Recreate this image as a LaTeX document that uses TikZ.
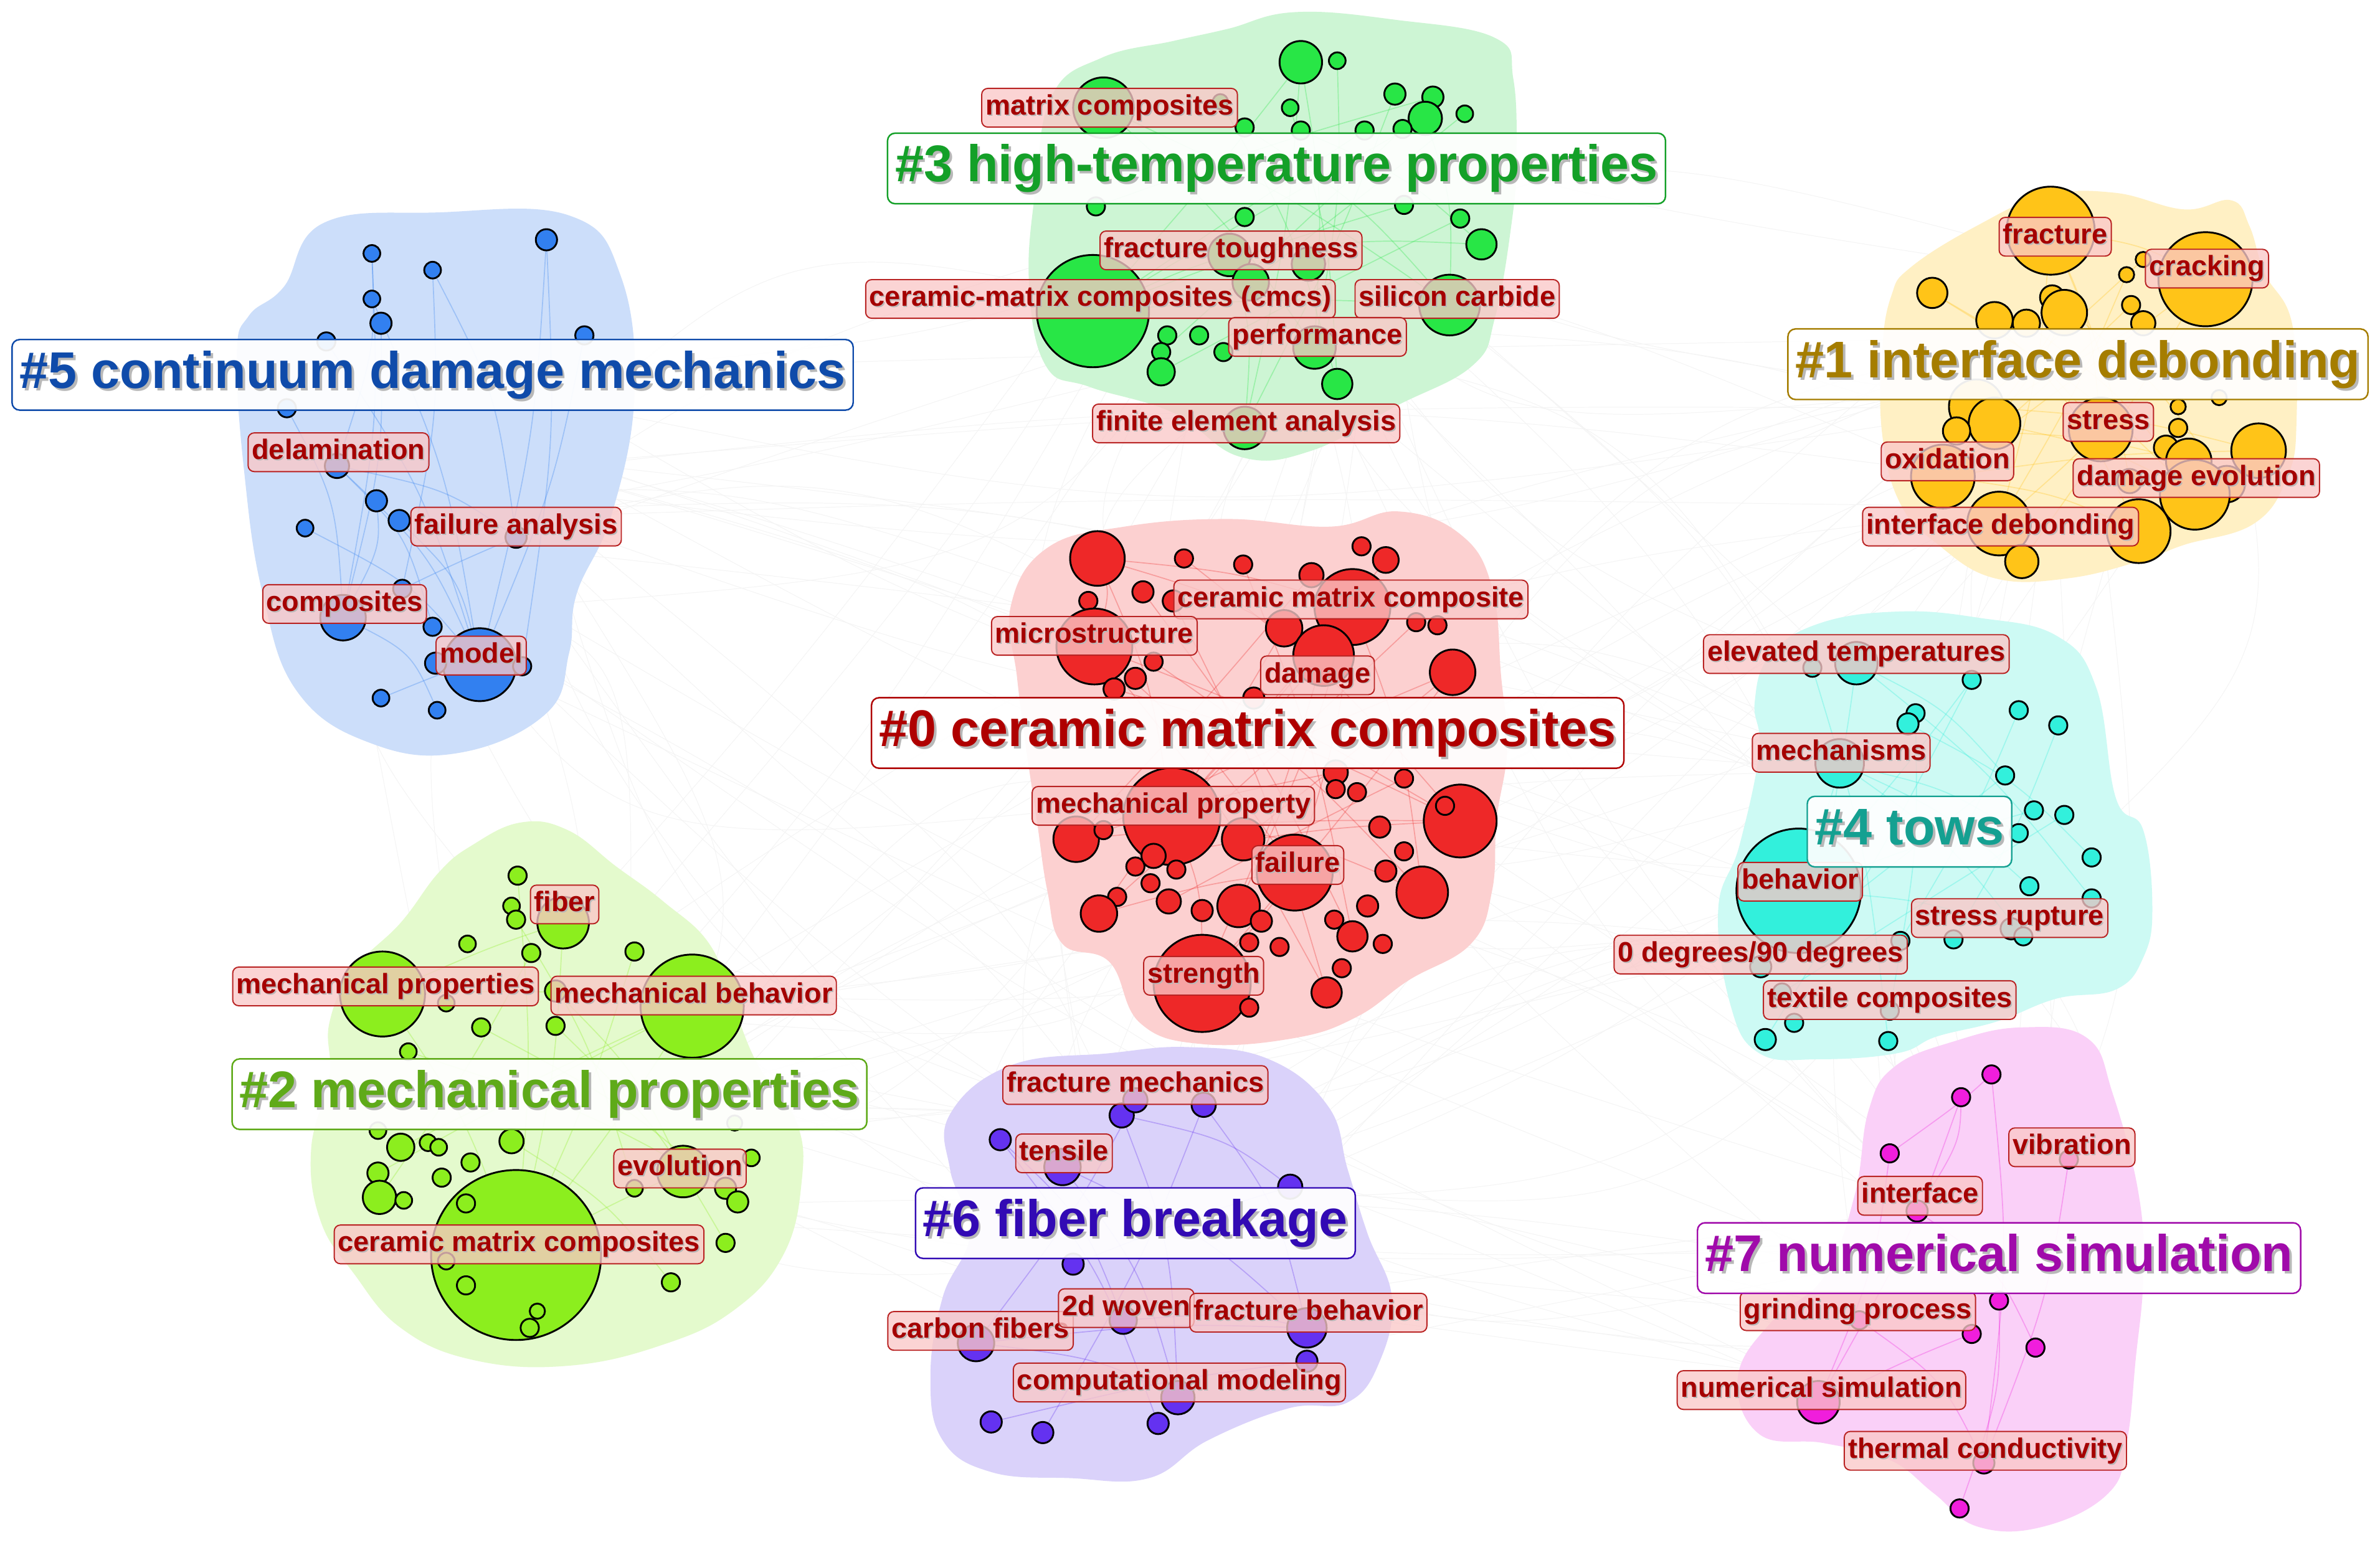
\documentclass[tikz,border=0pt]{standalone}
\usepackage{fontspec}
\setmainfont{Liberation Sans}
\usetikzlibrary{calc}
\definecolor{hR}{RGB}{252,208,208}
\definecolor{hY}{RGB}{255,240,196}
\definecolor{hL}{RGB}{228,250,205}
\definecolor{hG}{RGB}{205,245,212}
\definecolor{hC}{RGB}{205,250,244}
\definecolor{hB}{RGB}{204,222,250}
\definecolor{hP}{RGB}{218,210,250}
\definecolor{hM}{RGB}{250,208,248}
\definecolor{nR}{RGB}{238,40,40}
\definecolor{nY}{RGB}{255,196,24}
\definecolor{nL}{RGB}{140,238,30}
\definecolor{nG}{RGB}{40,230,70}
\definecolor{nC}{RGB}{50,240,220}
\definecolor{nB}{RGB}{50,128,240}
\definecolor{nP}{RGB}{100,50,240}
\definecolor{nM}{RGB}{240,30,220}
\definecolor{tR}{RGB}{175,0,0}
\definecolor{tY}{RGB}{165,125,0}
\definecolor{tL}{RGB}{95,170,25}
\definecolor{tG}{RGB}{20,160,40}
\definecolor{tC}{RGB}{20,160,145}
\definecolor{tB}{RGB}{15,75,170}
\definecolor{tP}{RGB}{50,10,180}
\definecolor{tM}{RGB}{160,10,170}
\definecolor{labT}{RGB}{165,0,0}
\definecolor{labB}{RGB}{185,35,35}
\definecolor{labF}{RGB}{250,200,200}
\newcommand\shtext[2]{\leavevmode\rlap{\hspace{#1}\raisebox{-#1}{\textcolor{black!28}{#2}}}#2}
\begin{document}
\begin{tikzpicture}[x=1pt,y=-1pt,
  cnode/.style={circle,draw=black,line width=1.2pt,inner sep=0pt},
  biglab/.style={draw=#1,text=#1,rounded corners=5pt,fill=white,fill opacity=0.93,text opacity=1,line width=1pt,
    font=\bfseries\fontsize{34}{40}\selectfont,inner xsep=5pt,inner ysep=7pt,text height=25pt,text depth=7.5pt},
  smlab/.style={draw=labB,fill=labF,fill opacity=0.78,text opacity=1,text=labT,rounded corners=4pt,line width=0.8pt,
    font=\bfseries\fontsize{18.5}{20}\selectfont,inner xsep=2.5pt,inner ysep=4pt,text height=13.5pt,text depth=4pt},
  hull/.style={fill=#1,draw=none},
  bgline/.style={draw=gray!9,line width=0.4pt},
  edge/.style={draw=#1,draw opacity=0.3,line width=0.7pt}]
\fill[white] (0,0) rectangle (1568,1021);
\useasboundingbox (0,0) rectangle (1568,1021);
% cluster centres for background links
\coordinate (cB) at (285,320);
\coordinate (cG) at (840,160);
\coordinate (cR) at (830,510);
\coordinate (cY) at (1380,260);
\coordinate (cC) at (1270,560);
\coordinate (cL) at (360,720);
\coordinate (cP) at (760,840);
\coordinate (cM) at (1300,860);
\pgfmathsetseed{12}
\foreach \A/\B in {cB/cG,cB/cR,cB/cY,cB/cC,cB/cL,cB/cP,cB/cM,cG/cR,cG/cY,cG/cC,cG/cL,cG/cP,cG/cM,cR/cY,cR/cC,cR/cL,cR/cP,cR/cM,cY/cC,cY/cL,cY/cP,cY/cM,cC/cL,cC/cP,cC/cM,cL/cP,cL/cM,cP/cM}{
  \foreach \k in {1,...,6}{
    \pgfmathsetmacro\ox{80*rand}\pgfmathsetmacro\oy{80*rand}
    \pgfmathsetmacro\qx{80*rand}\pgfmathsetmacro\qy{80*rand}
    \pgfmathsetmacro\cx{140*rand}\pgfmathsetmacro\cy{140*rand}
    \coordinate (bp1) at ($(\A)+(\ox,\oy)$);
    \coordinate (bp2) at ($(\B)+(\qx,\qy)$);
    \coordinate (bc) at ($(bp1)!0.5!(bp2)+(\cx,\cy)$);
    \draw[bgline] (bp1) .. controls (bc) .. (bp2);
  }}
% hulls
\fill[hull=hB] plot[smooth cycle,tension=0.7] coordinates {(213,147)(288,140)(375,142)(409,182)(418,260)(403,339)(380,391)(375,430)(360,470)(303,496)(245,490)(196,456)(173,391)(161,312)(156,234)(164,208)(187,189)};
\fill[hull=hG] plot[smooth cycle,tension=0.7] coordinates {(853,8)(919,13)(985,25)(997,52)(999,105)(996,146)(985,209)(970,241)(919,268)(864,297)(817,301)(773,272)(718,255)(689,241)(678,188)(682,126)(693,63)(726,38)(773,27)(809,19)};
\fill[hull=hR] plot[smooth cycle,tension=0.7] coordinates {(690,361)(741,347)(809,342)(877,347)(921,337)(962,352)(983,387)(989,446)(993,493)(986,540)(983,587)(969,622)(928,646)(894,670)(853,684)(792,688)(751,674)(731,634)(700,622)(690,587)(683,540)(676,493)(670,446)(666,399)};
\fill[hull=hY] plot[smooth cycle,tension=0.7] coordinates {(1259,176)(1302,149)(1347,129)(1393,127)(1439,138)(1470,132)(1482,149)(1492,180)(1510,213)(1513,277)(1507,314)(1485,345)(1439,359)(1412,369)(1363,381)(1314,381)(1277,359)(1252,332)(1240,286)(1240,231)(1246,195)};
\fill[hull=hM] plot[smooth cycle,tension=0.7] coordinates {(1248,703)(1288,686)(1332,677)(1375,684)(1392,721)(1409,787)(1412,841)(1407,896)(1401,951)(1389,984)(1346,1006)(1303,1006)(1274,984)(1245,962)(1202,951)(1159,945)(1145,907)(1168,870)(1202,841)(1222,787)(1231,732)};
\fill[hull=hC] plot[smooth cycle,tension=0.7] coordinates {(1166,432)(1198,411)(1250,403)(1303,407)(1355,419)(1381,453)(1394,526)(1412,547)(1418,599)(1412,631)(1394,652)(1355,658)(1316,673)(1276,683)(1250,694)(1198,698)(1159,694)(1140,662)(1132,599)(1146,557)(1159,495)(1156,463)};
\fill[hull=hP] plot[smooth cycle,tension=0.7] coordinates {(626,734)(666,702)(731,694)(783,690)(836,698)(875,729)(888,771)(901,813)(917,855)(909,897)(888,924)(849,928)(796,949)(757,974)(705,974)(653,970)(621,949)(613,907)(621,855)(639,813)(626,771)};
\fill[hull=hL] plot[smooth cycle,tension=0.7] coordinates {(311,557)(343,542)(374,547)(406,571)(437,594)(468,623)(484,665)(500,703)(525,740)(528,780)(516,827)(484,863)(437,886)(374,900)(311,896)(264,875)(233,839)(211,804)(205,757)(217,710)(217,674)(233,639)(264,608)(289,575)};
% ---------- cluster #0 (red)
\foreach \x/\y/\rr [count=\i] in {723/368/18,780/368/6,819/372/6,897/360/6,913/369/8.5,753/390/7,717/396/6,773/396/7,891/400/25,864/379/8,846/414/12,933/410/6,947/412/6,721/426/25,872/432/20,957/443/15,760/436/6,748/447/7,734/454/7,826/460/7,880/509/8,894/522/6,880/520/6,925/513/6,772/538/32,709/553/15,727/547/6,760/564/8,819/553/14,853/575/25,962/541/24,952/531/6,909/545/7,925/561/6,913/574/7,937/588/17,748/571/6,775/573/6,758/582/6,770/594/8,736/591/6,724/602/12,792/600/7,816/597/14,831/607/7,843/624/6,823/621/6,879/606/6,891/617/10,901/597/7,911/622/6,884/638/6,874/654/10,792/648/32,823/664/6}
  \coordinate (R\i) at (\x,\y);
\foreach \a/\b in {1/9,1/14,1/25,14/30,9/25,9/30,15/25,15/54,25/54,30/54,26/31,14/31,9/36,16/26,11/42,6/49,25/36,30/42,19/31,29/16,44/9,1/15,21/26,54/16,14/53,28/31,25/5,40/24,12/42,17/36,2/31,8/53,10/26,3/49}
  \draw[edge=nR] (R\a) .. controls ($(R\a)!0.5!(R\b)+(10,-7)$) .. (R\b);
\foreach \x/\y/\rr [count=\i] in {723/368/18,780/368/6,819/372/6,897/360/6,913/369/8.5,753/390/7,717/396/6,773/396/7,891/400/25,864/379/8,846/414/12,933/410/6,947/412/6,721/426/25,872/432/20,957/443/15,760/436/6,748/447/7,734/454/7,826/460/7,880/509/8,894/522/6,880/520/6,925/513/6,772/538/32,709/553/15,727/547/6,760/564/8,819/553/14,853/575/25,962/541/24,952/531/6,909/545/7,925/561/6,913/574/7,937/588/17,748/571/6,775/573/6,758/582/6,770/594/8,736/591/6,724/602/12,792/600/7,816/597/14,831/607/7,843/624/6,823/621/6,879/606/6,891/617/10,901/597/7,911/622/6,884/638/6,874/654/10,792/648/32,823/664/6}
  \node[cnode,fill=nR,minimum size=2*\rr] (nr\i) at (\x,\y) {};
% ---------- cluster #1 (yellow)
\foreach \x/\y/\rr [count=\i] in {1351/152/29,1453/184/31,1273/193/10,1412/171/5,1401/181/5,1352/196/8,1404/201/6,1314/211/12,1335/213/9,1360/206/15,1412/213/8,1302/268/18,1314/279/17,1289/284/9,1384/283/21,1435/282/6,1435/268/5,1427/295/8,1488/297/18,1442/304/15,1467/319/12,1280/314/21,1446/326/23,1409/350/21,1317/345/21,1332/370/11,1403/317/8,1462/262/5}
  \coordinate (Y\i) at (\x,\y);
\foreach \a/\b in {1/2,1/25,1/15,2/22,3/23,8/24,10/22,12/19,13/23,15/25,22/24,2/26,3/15,6/21,10/13,1/24,14/20,19/22,4/12,5/25,9/23,11/14,7/22}
  \draw[edge=nY] (Y\a) .. controls ($(Y\a)!0.5!(Y\b)+(10,-7)$) .. (Y\b);
\foreach \x/\y/\rr [count=\i] in {1351/152/29,1453/184/31,1273/193/10,1412/171/5,1401/181/5,1352/196/8,1404/201/6,1314/211/12,1335/213/9,1360/206/15,1412/213/8,1302/268/18,1314/279/17,1289/284/9,1384/283/21,1435/282/6,1435/268/5,1427/295/8,1488/297/18,1442/304/15,1467/319/12,1280/314/21,1446/326/23,1409/350/21,1317/345/21,1332/370/11,1403/317/8,1462/262/5}
  \node[cnode,fill=nY,minimum size=2*\rr] (ny\i) at (\x,\y) {};
% ---------- cluster #3 (green)
\foreach \x/\y/\rr [count=\i] in {857/41/14,881/40/5.5,850/71/5.5,919/62/7,944/64/7,939/78/11,965/75/5.5,924/85/6,899/86/6,857/86/6,820/84/6,727/71/20,804/67/5,722/136/6,820/143/6,925/135/6,962/144/6,976/161/10,720/205/37,769/221/6,790/221/6,765/232/6,765/245/9,806/232/6,866/229/14,881/253/10,955/201/20,810/168/14,862/174/11,820/282/14,824/186/12}
  \coordinate (G\i) at (\x,\y);
\foreach \a/\b in {1/19,1/30,6/19,6/27,12/25,12/27,19/27,19/28,28/30,25/1,4/30,16/19,17/23,3/26,9/19,18/28,5/14,11/27,2/25,7/31,8/22,10/18,13/26}
  \draw[edge=nG] (G\a) .. controls ($(G\a)!0.5!(G\b)+(10,-7)$) .. (G\b);
\foreach \x/\y/\rr [count=\i] in {857/41/14,881/40/5.5,850/71/5.5,919/62/7,944/64/7,939/78/11,965/75/5.5,924/85/6,899/86/6,857/86/6,820/84/6,727/71/20,804/67/5,722/136/6,820/143/6,925/135/6,962/144/6,976/161/10,720/205/37,769/221/6,790/221/6,765/232/6,765/245/9,806/232/6,866/229/14,881/253/10,955/201/20,810/168/14,862/174/11,820/282/14,824/186/12}
  \node[cnode,fill=nG,minimum size=2*\rr] (ng\i) at (\x,\y) {};
% ---------- cluster #4 (cyan)
\foreach \x/\y/\rr [count=\i] in {1223/437/14,1194/440/6,1299/448/6,1262/470/6,1257/477/7,1330/468/6,1356/478/6,1212/503/16,1321/511/6,1340/534/6,1360/537/6,1330/549/6,1378/565/6,1185/587/41,1337/584/6,1378/592/6,1325/612/7,1333/617/6,1287/619/6,1252/620/6,1160/637/7,1174/654/6,1182/674/6,1245/666/6,1163/685/7,1244/686/6}
  \coordinate (C\i) at (\x,\y);
\foreach \a/\b in {14/1,14/8,8/15,1/16,14/17,8/12,2/26,3/25,5/13,9/21,14/10,4/24,6/20,7/19,11/22,1/9,3/14,8/18}
  \draw[edge=nC] (C\a) .. controls ($(C\a)!0.5!(C\b)+(10,-7)$) .. (C\b);
\foreach \x/\y/\rr [count=\i] in {1223/437/14,1194/440/6,1299/448/6,1262/470/6,1257/477/7,1330/468/6,1356/478/6,1212/503/16,1321/511/6,1340/534/6,1360/537/6,1330/549/6,1378/565/6,1185/587/41,1337/584/6,1378/592/6,1325/612/7,1333/617/6,1287/619/6,1252/620/6,1160/637/7,1174/654/6,1182/674/6,1245/666/6,1163/685/7,1244/686/6}
  \node[cnode,fill=nC,minimum size=2*\rr] (nc\i) at (\x,\y) {};
% ---------- cluster #5 (blue)
\foreach \x/\y/\rr [count=\i] in {245/167/5.5,285/178/5.5,360/158/7,245/197/5.5,251/213/7,215/225/6,385/221/6,189/269/6,222/307/8,248/330/7,263/343/7,201/348/5.5,340/354/7,265/388/6,226/407/15,285/413/6,316/438/24,287/437/7,344/439/6,251/460/5.5,288/468/5.5}
  \coordinate (B\i) at (\x,\y);
\foreach \a/\b in {3/17,1/15,4/17,5/15,9/17,9/13,10/15,11/17,13/15,7/17,6/17,2/14,12/17,8/15,20/17,21/15,3/19,16/9,1/9,2/13}
  \draw[edge=nB] (B\a) .. controls ($(B\a)!0.5!(B\b)+(14,-8)$) .. (B\b);
\foreach \x/\y/\rr [count=\i] in {245/167/5.5,285/178/5.5,360/158/7,245/197/5.5,251/213/7,215/225/6,385/221/6,189/269/6,222/307/8,248/330/7,263/343/7,201/348/5.5,340/354/7,265/388/6,226/407/15,285/413/6,316/438/24,287/437/7,344/439/6,251/460/5.5,288/468/5.5}
  \node[cnode,fill=nB,minimum size=2*\rr] (nb\i) at (\x,\y) {};
% ---------- cluster #2 (light green)
\foreach \x/\y/\rr [count=\i] in {341/577/6,337/597/5.5,340/606/6,371/608/17,308/622/5.5,350/628/6,418/627/6,252/655/28,456/663/34,294/661/5.5,366/653/7,317/677/6,366/676/6,269/693/5.5,249/745/5.5,264/756/9,282/753/5.5,289/756/5.5,337/752/8,310/766/6,249/773/7,291/776/6,250/789/11,266/791/5.5,450/772/17,418/783/5.5,478/783/7,495/763/5.5,486/792/7,340/827/56,307/793/6,478/819/6,442/845/6,307/847/6,294/831/5.5,354/864/5,349/875/6,484/740/5}
  \coordinate (L\i) at (\x,\y);
\foreach \a/\b in {8/30,9/30,4/30,8/9,25/30,4/8,11/25,16/9,19/33,7/30,12/29,21/9,1/30,14/27,6/23,13/32,3/26}
  \draw[edge=nL] (L\a) .. controls ($(L\a)!0.5!(L\b)+(10,-7)$) .. (L\b);
\foreach \x/\y/\rr [count=\i] in {341/577/6,337/597/5.5,340/606/6,371/608/17,308/622/5.5,350/628/6,418/627/6,252/655/28,456/663/34,294/661/5.5,366/653/7,317/677/6,366/676/6,269/693/5.5,249/745/5.5,264/756/9,282/753/5.5,289/756/5.5,337/752/8,310/766/6,249/773/7,291/776/6,250/789/11,266/791/5.5,450/772/17,418/783/5.5,478/783/7,495/763/5.5,486/792/7,340/827/56,307/793/6,478/819/6,442/845/6,307/847/6,294/831/5.5,354/864/5,349/875/6,484/740/5}
  \node[cnode,fill=nL,minimum size=2*\rr] (nl\i) at (\x,\y) {};
% ---------- cluster #6 (purple)
\foreach \x/\y/\rr [count=\i] in {739/735/8,748/725/8,793/728/8,659/751/7,700/769/12,850/782/8,707/833/7,740/870/9,861/875/13,861/897/7,643/885/12,776/921/11,653/937/7,687/944/7,763/938/7}
  \coordinate (P\i) at (\x,\y);
\foreach \a/\b in {5/9,11/9,11/12,1/12,3/9,5/12,8/9,4/15,7/6,13/10,14/3,2/11,1/6,4/8}
  \draw[edge=nP] (P\a) .. controls ($(P\a)!0.5!(P\b)+(14,-8)$) .. (P\b);
\foreach \x/\y/\rr [count=\i] in {739/735/8,748/725/8,793/728/8,659/751/7,700/769/12,850/782/8,707/833/7,740/870/9,861/875/13,861/897/7,643/885/12,776/921/11,653/937/7,687/944/7,763/938/7}
  \node[cnode,fill=nP,minimum size=2*\rr] (np\i) at (\x,\y) {};
% ---------- cluster #7 (magenta)
\foreach \x/\y/\rr [count=\i] in {1312/708/6,1292/723/6,1245/760/6,1363/764/6,1263/798/7,1317/857/6,1225/870/6,1299/879/6,1341/888/6,1198/924/14,1307/964/7,1291/994/6}
  \coordinate (M\i) at (\x,\y);
\foreach \a/\b in {1/3,2/10,4/11,5/9,3/10,6/12,7/11,8/10,1/11,2/5}
  \draw[edge=nM] (M\a) .. controls ($(M\a)!0.5!(M\b)+(14,-8)$) .. (M\b);
\foreach \x/\y/\rr [count=\i] in {1312/708/6,1292/723/6,1245/760/6,1363/764/6,1263/798/7,1317/857/6,1225/870/6,1299/879/6,1341/888/6,1198/924/14,1307/964/7,1291/994/6}
  \node[cnode,fill=nM,minimum size=2*\rr] (nm\i) at (\x,\y) {};
% ---------- keyword labels
\node[smlab] (k1) at (731,71) {\shtext{0.8pt}{matrix composites}};
\node[smlab] (k2) at (811,165) {\shtext{0.8pt}{fracture toughness}};
\node[smlab] (k3) at (725,197) {\shtext{0.8pt}{ceramic-matrix composites (cmcs)}};
\node[smlab] (k4) at (960,197) {\shtext{0.8pt}{silicon carbide}};
\node[smlab] (k5) at (868,222) {\shtext{0.8pt}{performance}};
\node[smlab] (k6) at (821,279) {\shtext{0.8pt}{finite element analysis}};
\node[smlab] (k7) at (1354,156) {\shtext{0.8pt}{fracture}};
\node[smlab] (k8) at (1454,177) {\shtext{0.8pt}{cracking}};
\node[smlab] (k9) at (1389,278) {\shtext{0.8pt}{stress}};
\node[smlab] (k10) at (1283,304) {\shtext{0.8pt}{oxidation}};
\node[smlab] (k11) at (1447,315) {\shtext{0.8pt}{damage evolution}};
\node[smlab] (k12) at (1318,347) {\shtext{0.8pt}{interface debonding}};
\node[smlab] (k13) at (223,298) {\shtext{0.8pt}{delamination}};
\node[smlab] (k14) at (340,347) {\shtext{0.8pt}{failure analysis}};
\node[smlab] (k15) at (227,398) {\shtext{0.8pt}{composites}};
\node[smlab] (k16) at (317,432) {\shtext{0.8pt}{model}};
\node[smlab] (k17) at (890,395) {\shtext{0.8pt}{ceramic matrix composite}};
\node[smlab] (k18) at (721,419) {\shtext{0.8pt}{microstructure}};
\node[smlab] (k19) at (868,445) {\shtext{0.8pt}{damage}};
\node[smlab] (k20) at (773,531) {\shtext{0.8pt}{mechanical property}};
\node[smlab] (k21) at (855,570) {\shtext{0.8pt}{failure}};
\node[smlab] (k22) at (793,643) {\shtext{0.8pt}{strength}};
\node[smlab] (k23) at (1223,431) {\shtext{0.8pt}{elevated temperatures}};
\node[smlab] (k24) at (1213,496) {\shtext{0.8pt}{mechanisms}};
\node[smlab] (k25) at (1186,581) {\shtext{0.8pt}{behavior}};
\node[smlab] (k26) at (1324,605) {\shtext{0.8pt}{stress rupture}};
\node[smlab] (k27) at (1160,629) {\shtext{0.8pt}{0 degrees/90 degrees}};
\node[smlab] (k28) at (1245,659) {\shtext{0.8pt}{textile composites}};
\node[smlab] (k29) at (372,596) {\shtext{0.8pt}{fiber}};
\node[smlab] (k30) at (254,650) {\shtext{0.8pt}{mechanical properties}};
\node[smlab] (k31) at (457,656) {\shtext{0.8pt}{mechanical behavior}};
\node[smlab] (k32) at (448,770) {\shtext{0.8pt}{evolution}};
\node[smlab] (k33) at (342,820) {\shtext{0.8pt}{ceramic matrix composites}};
\node[smlab] (k34) at (748,715) {\shtext{0.8pt}{fracture mechanics}};
\node[smlab] (k35) at (701,760) {\shtext{0.8pt}{tensile}};
\node[smlab] (k36) at (646,877) {\shtext{0.8pt}{carbon fibers}};
\node[smlab] (k37) at (742,862) {\shtext{0.8pt}{2d woven}};
\node[smlab] (k38) at (862,865) {\shtext{0.8pt}{fracture behavior}};
\node[smlab] (k39) at (777,911) {\shtext{0.8pt}{computational modeling}};
\node[smlab] (k40) at (1365,756) {\shtext{0.8pt}{vibration}};
\node[smlab] (k41) at (1265,788) {\shtext{0.8pt}{interface}};
\node[smlab] (k42) at (1224,864) {\shtext{0.8pt}{grinding process}};
\node[smlab] (k43) at (1200,916) {\shtext{0.8pt}{numerical simulation}};
\node[smlab] (k44) at (1308,956) {\shtext{0.8pt}{thermal conductivity}};
% ---------- cluster labels
\node[biglab=tR] (L0) at (822,483) {\shtext{1.6pt}{\#0 ceramic matrix composites}};
\node[biglab=tY] (L1) at (1369,240) {\shtext{1.6pt}{\#1 interface debonding}};
\node[biglab=tL] (L2) at (362,721) {\shtext{1.6pt}{\#2 mechanical properties}};
\node[biglab=tG] (L3) at (841,111) {\shtext{1.6pt}{\#3 high-temperature properties}};
\node[biglab=tC] (L4) at (1258,548) {\shtext{1.6pt}{\#4 tows}};
\node[biglab=tB] (L5) at (285,247) {\shtext{1.6pt}{\#5 continuum damage mechanics}};
\node[biglab=tP] (L6) at (748,806) {\shtext{1.6pt}{\#6 fiber breakage}};
\node[biglab=tM] (L7) at (1317,829) {\shtext{1.6pt}{\#7 numerical simulation}};
\end{tikzpicture}
\end{document}
